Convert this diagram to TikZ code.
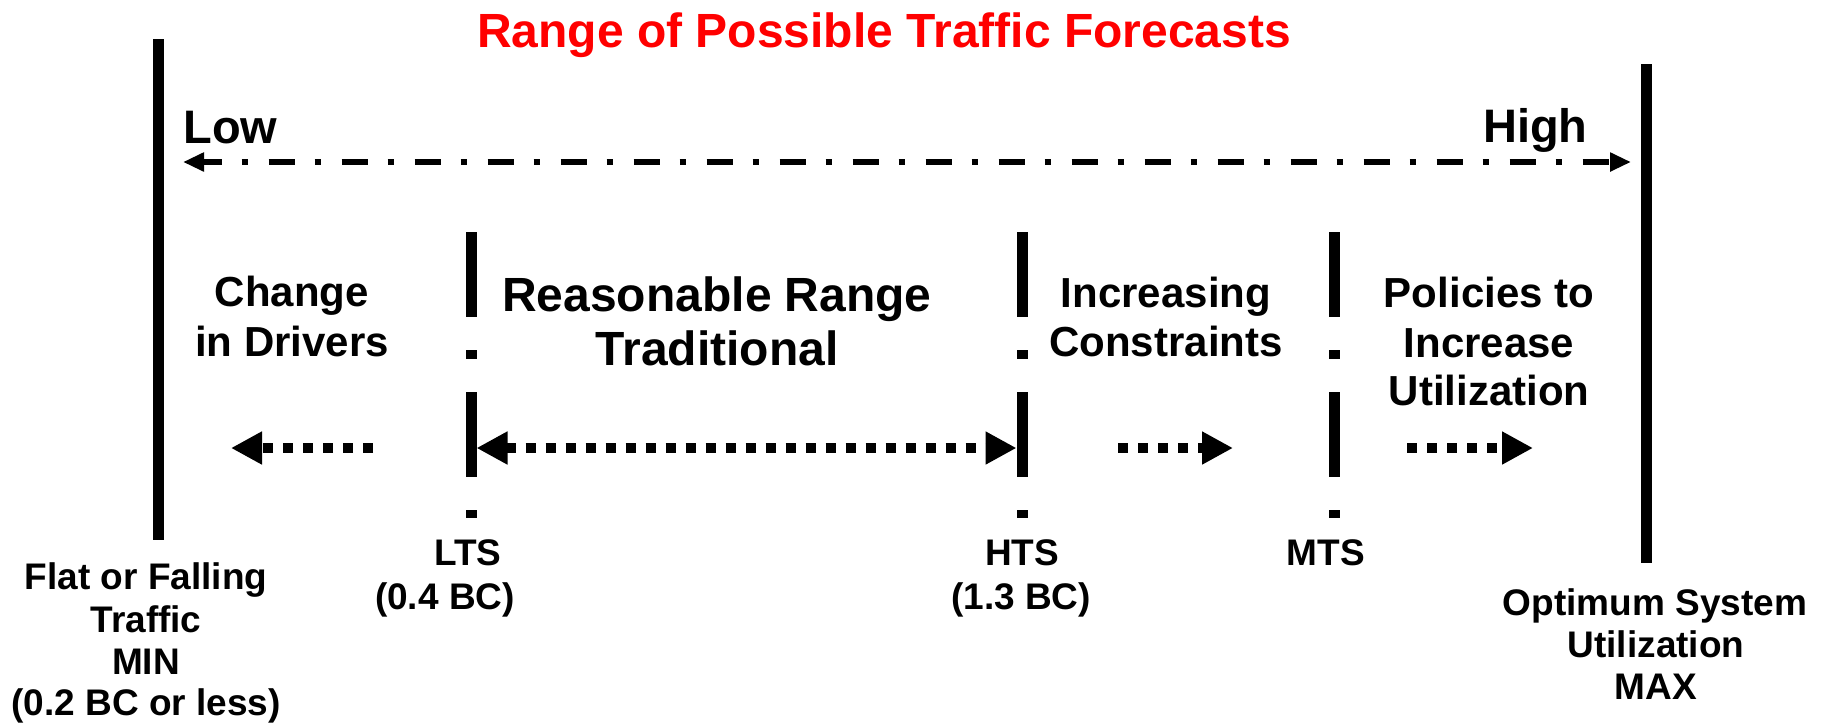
\documentclass[tikz,border=0pt]{standalone}
\usepackage{fontspec}
\setmainfont{Liberation Sans}
\usetikzlibrary{arrows.meta}
\definecolor{titlered}{RGB}{255,0,0}
\begin{document}
\begin{tikzpicture}[x=0.5pt,y=-0.5pt,
  bar/.style={line width=5.5pt},
  marker/.style={line width=5.5pt, dash pattern=on 42.5pt off 16.5pt on 4.5pt off 16.5pt},
  scalearrow/.style={line width=2.6pt, dash pattern=on 13pt off 10pt on 3pt off 10.5pt, dash phase=3.5pt,
    {Triangle[length=10.5pt,width=9pt]}-{Triangle[length=10.5pt,width=9pt]}},
  trend/.style={line width=5pt, dash pattern=on 5pt off 5pt, -{Triangle[length=15.5pt,width=15.5pt]}},
  trendboth/.style={line width=5pt, dash pattern=on 5pt off 5pt,
    {Triangle[length=15.5pt,width=15.5pt]}-{Triangle[length=15.5pt,width=15.5pt]}},
  heading/.style={inner sep=0pt, anchor=base, text=titlered, font=\bfseries\fontsize{24pt}{28pt}\selectfont},
  endword/.style={inner sep=0pt, font=\bfseries\fontsize{23.5pt}{28pt}\selectfont},
  zone/.style={inner sep=0pt, anchor=base, font=\bfseries\fontsize{21pt}{25pt}\selectfont},
  bigzone/.style={inner sep=0pt, anchor=base, font=\bfseries\fontsize{24pt}{28pt}\selectfont},
  marklabel/.style={inner sep=0pt, anchor=base, font=\bfseries\fontsize{18.5pt}{22pt}\selectfont},
]
\useasboundingbox (0,0) rectangle (1832,725);

% title
\node[heading] (title) at (884,47) {Range of Possible Traffic Forecasts};

% outer limits
\coordinate (minTop) at (158,39);
\coordinate (minBot) at (158,540);
\coordinate (maxTop) at (1646,64);
\coordinate (maxBot) at (1646,563);
\draw[bar] (minTop) -- (minBot);
\draw[bar] (maxTop) -- (maxBot);

% low / high scale
\node[endword, anchor=base west] (low) at (183,143) {Low};
\node[endword, anchor=base east] (high) at (1588,142) {High};
\coordinate (lowEnd) at (183,162);
\coordinate (highEnd) at (1631,162);
\draw[scalearrow] (lowEnd) -- (highEnd);

% scenario markers
\coordinate (ltsTop) at (471,232);
\coordinate (ltsBot) at (471,518);
\coordinate (htsTop) at (1022,232);
\coordinate (htsBot) at (1022,518);
\coordinate (mtsTop) at (1334,232);
\coordinate (mtsBot) at (1334,518);
\draw[marker] (ltsTop) -- (ltsBot);
\draw[marker] (htsTop) -- (htsBot);
\draw[marker] (mtsTop) -- (mtsBot);

% zone captions
\node[zone] (change) at (292,306) {Change};
\node[zone] (drivers) at (292,356) {in Drivers};
\node[bigzone] (reasonable) at (717,311) {Reasonable Range};
\node[bigzone] (traditional) at (717,365) {Traditional};
\node[zone] (increasing) at (1166,307) {Increasing};
\node[zone] (constraints) at (1166,356) {Constraints};
\node[zone] (policies) at (1489,307) {Policies to};
\node[zone] (increase) at (1489,357) {Increase};
\node[zone] (utilzone) at (1489,405) {Utilization};

% trend arrows
\coordinate (chTail) at (373,448);
\coordinate (chTip) at (231,448);
\coordinate (rrLeft) at (476.5,448);
\coordinate (rrRight) at (1016.5,448);
\coordinate (icTail) at (1118,448);
\coordinate (icTip) at (1233,448);
\coordinate (poTail) at (1407,448);
\coordinate (poTip) at (1533,448);
\draw[trend] (chTail) -- (chTip);
\draw[trendboth] (rrLeft) -- (rrRight);
\draw[trend] (icTail) -- (icTip);
\draw[trend] (poTail) -- (poTip);

% marker labels
\node[marklabel] (lts) at (468,565) {LTS};
\node[marklabel] (ltsval) at (445,609) {(0.4 BC)};
\node[marklabel] (hts) at (1022,565) {HTS};
\node[marklabel] (htsval) at (1021,609) {(1.3 BC)};
\node[marklabel] (mts) at (1326,565) {MTS};

% limit labels
\node[marklabel] (flat) at (146,589) {Flat or Falling};
\node[marklabel] (traffic) at (146,632) {Traffic};
\node[marklabel] (min) at (146,674) {MIN};
\node[marklabel] (minval) at (146,715) {(0.2 BC or less)};
\node[marklabel] (optimum) at (1655,615) {Optimum System};
\node[marklabel] (utilmax) at (1656,657) {Utilization};
\node[marklabel] (max) at (1656,699) {MAX};
\end{tikzpicture}
\end{document}
